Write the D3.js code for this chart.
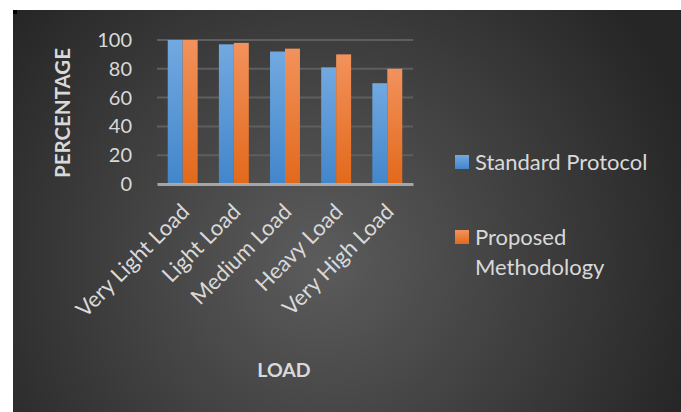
<!DOCTYPE html>
<html>
<head>
<meta charset="utf-8">
<script src="https://cdn.jsdelivr.net/npm/d3@7"></script>
<style>
  html, body { margin: 0; padding: 0; background: #ffffff; }
  svg { display: block; }
</style>
</head>
<body>
<div id="container"></div>
<script>
/* CONSTANTS AND GLOBALS */
const width = 681,
  height = 412,
  margin = { top: 40, left: 157, bottom: 228, right: 268 };

/* DATA */
const loads = ["Very Light Load", "Light Load", "Medium Load", "Heavy Load", "Very High Load"];
const seriesNames = ["Standard Protocol", "Proposed Methodology"];
const standardProtocol = [100, 97, 92, 81, 70];
const proposedMethodology = [100, 98, 94, 90, 80];
const yTicks = [0, 20, 40, 60, 80, 100];

const rows = loads.map((l, i) => ({ load: l, values: [standardProtocol[i], proposedMethodology[i]] }));

const font = "Lato, 'Open Sans', sans-serif";
const textColor = "#d9d9d9";

// CREATE SVG ELEMENT
const svg = d3.select("#container")
  .append("svg")
  .attr("width", width)
  .attr("height", height);

const defs = svg.append("defs");

// background radial gradient
const bg = defs.append("radialGradient")
  .attr("id", "bg")
  .attr("gradientUnits", "userSpaceOnUse")
  .attr("cx", 320).attr("cy", 260).attr("r", 390);
bg.append("stop").attr("offset", "0%").attr("stop-color", "#5c5c5c");
bg.append("stop").attr("offset", "100%").attr("stop-color", "#262626");

// bar gradients
const barColors = [["#72a9e0", "#4286cb"], ["#f2925c", "#e2691b"]];
barColors.forEach((c, i) => {
  const g = defs.append("linearGradient")
    .attr("id", "bar" + i)
    .attr("x1", 0).attr("y1", 0).attr("x2", 0).attr("y2", 1);
  g.append("stop").attr("offset", "0%").attr("stop-color", c[0]);
  g.append("stop").attr("offset", "100%").attr("stop-color", c[1]);
});

// chart background
svg.append("rect")
  .attr("x", 13).attr("y", 10)
  .attr("width", width - 13).attr("height", height - 10)
  .attr("fill", "url(#bg)");
svg.append("rect")
  .attr("x", 13).attr("y", 10)
  .attr("width", 4).attr("height", 4)
  .attr("fill", "#000");

// SCALES
const xScale = d3.scaleBand()
  .domain(loads)
  .range([margin.left, width - margin.right])
  .paddingInner(0.415)
  .paddingOuter(0.21);

const xSub = d3.scaleBand()
  .domain([0, 1])
  .range([0, xScale.bandwidth()]);

const yScale = d3.scaleLinear()
  .domain([0, 100])
  .range([height - margin.bottom, margin.top]);

// GRIDLINES
svg.append("g")
  .selectAll("line")
  .data(yTicks.filter(t => t > 0))
  .join("line")
  .attr("x1", margin.left)
  .attr("x2", width - margin.right)
  .attr("y1", d => yScale(d))
  .attr("y2", d => yScale(d))
  .attr("stroke", "#5e5e5e")
  .attr("stroke-width", 2);

// Y AXIS LABELS
const yAxis = d3.axisLeft(yScale)
  .tickValues(yTicks)
  .tickSize(0)
  .tickPadding(25);
const yAxisG = svg.append("g")
  .attr("transform", `translate(${margin.left},0)`)
  .call(yAxis);
yAxisG.select(".domain").remove();
yAxisG.selectAll("text")
  .style("font-family", font)
  .style("font-size", "20px")
  .attr("fill", textColor);

// DRAW BARS
svg.append("g")
  .selectAll("g")
  .data(rows)
  .join("g")
  .attr("transform", d => `translate(${xScale(d.load)},0)`)
  .selectAll("rect")
  .data(d => d.values.map((v, i) => ({ i, v })))
  .join("rect")
  .attr("x", d => xSub(d.i))
  .attr("width", xSub.bandwidth())
  .attr("y", d => yScale(d.v))
  .attr("height", d => yScale(0) - yScale(d.v))
  .attr("fill", d => `url(#bar${d.i})`);

// X AXIS
const xAxis = d3.axisBottom(xScale).tickSize(0).tickPadding(0);
const xAxisG = svg.append("g")
  .attr("transform", `translate(0,${yScale(0)})`)
  .call(xAxis);
xAxisG.select(".domain")
  .attr("stroke", "#b5b5b5")
  .attr("stroke-opacity", 0.85)
  .attr("stroke-width", 3);
xAxisG.selectAll("text")
  .style("font-family", font)
  .style("font-size", "22px")
  .attr("fill", textColor)
  .attr("text-anchor", "end")
  .attr("dy", null)
  .attr("y", 0)
  .attr("transform", "translate(8,29) rotate(-45)");

// AXIS TITLES
svg.append("text")
  .attr("transform", `translate(70,113) rotate(-90)`)
  .attr("text-anchor", "middle")
  .style("font-family", font)
  .style("font-size", "20.5px")
  .style("font-weight", "bold")
  .attr("fill", textColor)
  .text("PERCENTAGE");

svg.append("text")
  .attr("x", 284)
  .attr("y", 377)
  .attr("text-anchor", "middle")
  .style("font-family", font)
  .style("font-size", "19.5px")
  .style("font-weight", "bold")
  .attr("fill", textColor)
  .text("LOAD");

// LEGEND
const legendLines = [["Standard Protocol"], ["Proposed", "Methodology"]];
const legend = svg.append("g")
  .selectAll("g")
  .data(seriesNames)
  .join("g")
  .attr("transform", (d, i) => `translate(455,${155 + i * 75})`);
legend.append("rect")
  .attr("width", 14).attr("height", 14)
  .attr("fill", (d, i) => `url(#bar${i})`);
legend.append("text")
  .attr("x", 20)
  .attr("y", 15)
  .style("font-family", font)
  .style("font-size", "22px")
  .attr("fill", textColor)
  .selectAll("tspan")
  .data((d, i) => legendLines[i])
  .join("tspan")
  .attr("x", 20)
  .attr("dy", (d, j) => j === 0 ? 0 : 30)
  .text(d => d);
</script>
</body>
</html>
